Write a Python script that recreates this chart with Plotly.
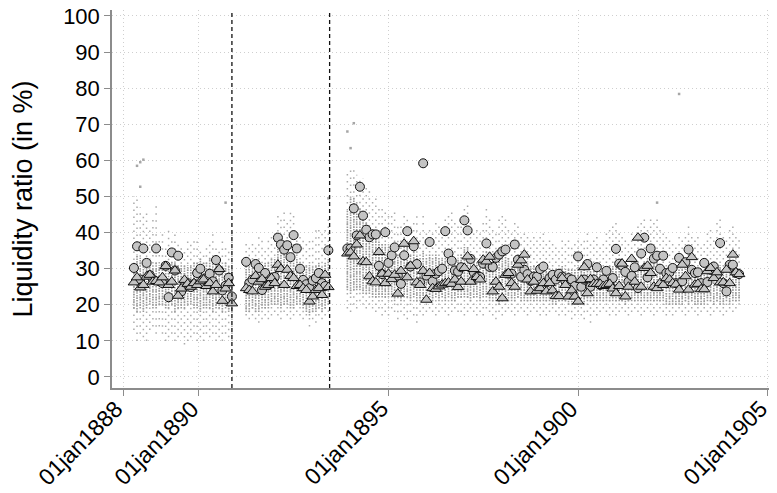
import pandas as pd
import plotly.graph_objects as go

# ---------------- data ----------------
# monthly observation dates, three sub-periods
seg1_start, seg1_n = "1888-04-15", 32
seg2_start, seg2_n = "1891-04-01", 27
seg3_start, seg3_n = "1893-12-01", 125

# cross-sectional mean (circles)
mean1 = [30.2, 36.2, 27.0, 35.6, 31.6, 28.2, 27.0, 35.6, 26.5, 26.0,
         30.8, 22.1, 34.5, 29.5, 33.6, 23.7, 25.5, 26.0, 24.9, 25.8,
         28.8, 30.0, 27.1, 27.4, 28.6, 26.5, 32.4, 29.5, 24.0, 25.3,
         27.5, 22.3]
mean2 = [31.9, 26.0, 27.0, 31.3, 30.2, 24.1, 28.8, 25.5, 27.4, 27.7,
         38.6, 36.7, 35.3, 36.5, 33.2, 39.3, 35.6, 30.0, 26.9, 25.7,
         24.6, 26.7, 27.4, 28.8, 26.0, 25.2, 35.1]
mean3 = [35.6, 35.6, 46.7, 39.2, 52.7, 44.7, 40.8, 38.7, 39.5, 39.5, 30.8, 28.5,
         40.1, 31.6, 33.7, 35.9, 28.1, 25.8, 33.7, 40.4, 30.6, 36.2, 31.3, 26.2,
         59.2, 28.1, 37.4, 26.5, 28.6, 29.3, 30.0, 40.4, 34.2, 32.2, 29.5, 29.2,
         30.4, 43.4, 40.6, 32.7, 29.0, 27.7, 27.7, 31.4, 37.0, 30.5, 30.5, 33.0,
         33.9, 34.8, 35.3, 28.6, 28.6, 36.7, 32.5, 27.8, 29.7, 28.5, 26.6, 27.8,
         27.8, 29.9, 30.6, 26.2, 27.4, 28.3, 27.0, 28.6, 27.8, 26.5, 27.4, 27.0,
         25.2, 33.4, 25.0, 27.0, 31.3, 25.0, 27.0, 30.4, 25.5, 27.0, 29.4, 25.7,
         27.4, 35.5, 31.4, 30.9, 29.1, 26.4, 28.0, 30.4, 24.6, 34.2, 38.6, 27.6,
         35.6, 32.8, 33.6, 30.0, 33.6, 28.8, 29.0, 30.2, 26.0, 33.0, 26.5, 31.8,
         35.3, 29.7, 28.8, 29.0, 26.0, 31.6, 26.3, 29.7, 30.6, 28.3, 37.1, 26.0,
         23.7, 31.1, 31.1, 28.8, 28.5]

# cross-sectional median (triangles)
med1 = [26.2, 27.6, 24.8, 25.5, 27.8, 28.3, 26.4, 26.6, 26.2, 27.6,
        30.7, 25.5, 26.4, 29.5, 22.5, 24.5, 26.9, 25.8, 25.0, 26.0,
        25.5, 26.5, 27.0, 25.2, 26.0, 23.7, 25.5, 29.9, 21.1, 24.5,
        26.0, 20.4]
med2 = [24.6, 24.1, 23.7, 28.0, 26.4, 27.1, 25.0, 25.5, 27.4, 26.0,
        31.1, 29.9, 25.5, 29.7, 28.0, 27.4, 25.2, 25.5, 24.6, 24.1,
        20.9, 22.3, 24.1, 24.6, 22.7, 28.3, 24.9]
med3 = [34.2, 34.5, 33.4, 36.7, 39.2, 32.0, 31.8, 27.9, 26.5, 26.2, 34.6, 28.6,
        26.0, 28.6, 27.1, 28.3, 23.1, 29.4, 36.9, 27.6, 30.8, 37.6, 26.2, 25.5,
        29.4, 21.4, 28.8, 24.6, 24.4, 25.1, 25.6, 26.0, 26.2, 25.8, 27.0, 24.9,
        26.4, 30.2, 33.4, 26.4, 29.9, 27.7, 27.0, 32.5, 32.0, 33.3, 23.7, 26.4,
        25.0, 21.8, 28.3, 28.8, 26.0, 25.0, 31.1, 32.3, 33.9, 27.0, 23.7, 26.4,
        23.9, 24.6, 26.0, 23.7, 26.0, 24.0, 22.4, 22.4, 27.4, 25.5, 22.3, 24.0,
        22.3, 20.9, 26.9, 30.4, 23.2, 27.1, 25.8, 25.8, 25.8, 25.2, 25.5, 25.8,
        24.5, 23.2, 25.2, 31.4, 22.3, 25.0, 32.7, 26.4, 38.6, 25.0, 30.2, 30.8,
        28.8, 25.0, 24.6, 26.0, 25.5, 27.4, 27.0, 26.0, 25.6, 24.2, 31.1, 27.9,
        24.2, 33.2, 25.6, 25.8, 24.3, 24.3, 29.3, 30.2, 27.4, 29.0, 26.2, 26.2,
        29.7, 26.0, 33.9, 29.0, 28.5]

# individual-bank dot cloud: full spread (min/max) and dense core
lo1 = [13, 10, 12, 11, 10, 13, 14, 12, 14, 12, 10, 11, 12, 10, 11, 12, 9, 10, 11, 12,
       10, 11, 10, 12, 11, 12, 10, 11, 10, 12, 11, 10]
hi1 = [50, 50, 47, 45, 46, 42, 44, 48, 38, 40, 36, 42, 38, 41, 37, 36, 35, 38, 37, 39,
       39, 36, 35, 37, 38, 41, 36, 35, 38, 37, 36, 40]
core_lo1 = [19, 18, 19, 18, 19, 20, 19, 19, 20, 20, 19, 19, 20, 18, 19, 19, 19, 20, 20, 19,
            19, 18, 19, 19, 19, 18, 19, 19, 18, 19, 18, 18]
core_hi1 = [32, 34, 33, 32, 31, 31, 31, 32, 31, 31, 32, 31, 32, 32, 31, 31, 31, 31, 31, 32,
            32, 33, 32, 32, 33, 32, 32, 33, 31, 32, 31, 30]

lo2 = [17, 16, 17, 16, 15, 16, 17, 16, 17, 18, 17, 16, 18, 17, 16, 17, 18, 17, 16, 17,
       14, 16, 15, 17, 16, 17, 18]
hi2 = [37, 36, 38, 37, 39, 38, 36, 39, 40, 41, 45, 44, 46, 43, 47, 45, 41, 40, 38, 37,
       38, 39, 42, 41, 40, 42, 44]
core_lo2 = [18, 18, 19, 18, 18, 19, 19, 19, 20, 20, 20, 19, 20, 20, 19, 19, 20, 20, 19, 18,
            17, 18, 18, 19, 18, 19, 20]
core_hi2 = [32, 31, 32, 32, 32, 31, 32, 32, 33, 33, 36, 35, 35, 35, 34, 35, 33, 32, 31, 31,
            31, 31, 31, 32, 31, 32, 33]

lo3 = [19, 18, 20, 19, 21, 20, 19, 20, 19, 18, 19, 17,
       18, 17, 19, 18, 16, 18, 17, 16, 18, 17, 15, 18,
       17, 18, 19, 18, 17, 18, 19, 18, 17, 18, 19, 18,
       18, 17, 18, 19, 18, 17, 18, 17, 19, 18, 17, 16,
       18, 17, 18, 19, 18, 17, 18, 19, 18, 17, 18, 19,
       18, 17, 18, 17, 18, 19, 18, 17, 18, 17, 18, 16,
       17, 18, 17, 16, 18, 15, 18, 17, 18, 19, 18, 17,
       18, 17, 18, 19, 18, 17, 18, 19, 18, 17, 18, 19,
       18, 17, 18, 19, 18, 17, 18, 17, 18, 19, 18, 17,
       18, 19, 18, 17, 18, 19, 18, 17, 18, 19, 18, 17,
       18, 19, 18, 19, 20]
hi3 = [57, 58, 58, 56, 55, 55, 53, 52, 50, 50, 48, 47,
       46, 45, 46, 47, 42, 43, 46, 45, 42, 44, 45, 41,
       46, 40, 42, 41, 44, 42, 40, 44, 45, 47, 43, 42,
       45, 48, 49, 44, 41, 42, 40, 43, 47, 44, 42, 41,
       44, 46, 45, 41, 40, 44, 43, 40, 41, 39, 38, 40,
       39, 40, 41, 38, 39, 38, 37, 36, 38, 37, 38, 36,
       38, 39, 37, 38, 40, 37, 38, 39, 37, 38, 40, 41,
       42, 43, 41, 40, 39, 38, 41, 40, 42, 43, 44, 41,
       45, 44, 44, 42, 41, 40, 39, 38, 37, 39, 38, 40,
       42, 40, 38, 39, 37, 38, 40, 41, 39, 43, 44, 40,
       38, 41, 42, 40, 39]
core_lo3 = [24, 23, 24, 24, 24, 23, 23, 23, 22, 22, 22, 22,
            22, 22, 22, 21, 22, 21, 22, 22, 21, 22, 21, 21,
            21, 21, 22, 21, 22, 21, 22, 21, 22, 21, 21, 22,
            22, 22, 22, 21, 22, 22, 21, 22, 22, 21, 21, 21,
            20, 21, 22, 21, 21, 21, 22, 21, 21, 21, 21, 21,
            21, 21, 21, 21, 21, 20, 20, 21, 21, 21, 20, 20,
            20, 20, 21, 20, 21, 21, 21, 21, 21, 21, 21, 21,
            21, 21, 21, 21, 20, 21, 21, 21, 21, 21, 21, 21,
            21, 21, 21, 21, 21, 20, 20, 20, 20, 20, 20, 21,
            20, 21, 20, 20, 20, 20, 21, 21, 20, 21, 20, 20,
            21, 20, 21, 21, 21]
core_hi3 = [46, 50, 50, 48, 47, 45, 43, 42, 41, 40, 38, 37,
            37, 36, 36, 35, 34, 34, 36, 36, 34, 35, 34, 33,
            35, 33, 34, 33, 34, 33, 33, 35, 34, 33, 33, 33,
            34, 36, 36, 33, 32, 32, 32, 33, 35, 34, 33, 32,
            33, 34, 34, 33, 32, 33, 33, 32, 32, 32, 31, 31,
            31, 31, 31, 30, 30, 30, 30, 30, 31, 30, 30, 30,
            30, 31, 30, 30, 31, 30, 30, 31, 30, 30, 31, 31,
            31, 32, 31, 31, 30, 30, 31, 31, 32, 31, 32, 31,
            32, 32, 32, 31, 31, 30, 30, 30, 30, 30, 30, 30,
            31, 30, 30, 30, 29, 30, 30, 31, 30, 31, 31, 30,
            30, 30, 31, 30, 30]

# isolated far-out bank observations
outlier_dates = ["1888-05-15", "1888-06-15", "1888-07-15", "1888-06-15", "1890-09-15",
                 "1893-06-01", "1893-12-01", "1894-01-01", "1894-02-01", "1902-02-01",
                 "1902-09-01"]
outlier_vals = [58.5, 59.5, 60.2, 52.7, 48.3, 49.5, 68.0, 63.4, 70.3, 48.3, 78.4]

# event lines (vertical dashed)
event_dates = ["1890-11-15", "1893-06-13"]

# axis ticks
x_tickvals = ["1888-01-01", "1890-01-01", "1895-01-01", "1900-01-01", "1905-01-01"]
x_ticktext = ["01jan1888", "01jan1890", "01jan1895", "01jan1900", "01jan1905"]
y_tickvals = [0, 10, 20, 30, 40, 50, 60, 70, 80, 90, 100]

# ---------------- build ----------------
def month_dates(start, n):
    d0 = pd.Timestamp(start)
    return [d0 + pd.DateOffset(months=i) for i in range(n)]

segments = [
    (month_dates(seg1_start, seg1_n), mean1, med1, lo1, hi1, core_lo1, core_hi1),
    (month_dates(seg2_start, seg2_n), mean2, med2, lo2, hi2, core_lo2, core_hi2),
    (month_dates(seg3_start, seg3_n), mean3, med3, lo3, hi3, core_lo3, core_hi3),
]

dates, means, meds = [], [], []
sx, sy, cx, cy = [], [], [], []
for d, m, md, lo, hi, clo, chi in segments:
    n = len(d)
    assert all(len(a) == n for a in (m, md, lo, hi, clo, chi)), n
    dates += d
    means += m
    meds += md
    for i in range(n):
        sx += [d[i], d[i], None]
        sy += [lo[i], hi[i], None]
        cx += [d[i], d[i], None]
        cy += [clo[i], chi[i], None]

fig = go.Figure()
fig.add_trace(go.Scatter(x=sx, y=sy, mode="lines",
                         line=dict(color="#ababab", width=1.5, dash="1.5px,5.5px"),
                         hoverinfo="skip", showlegend=False))
fig.add_trace(go.Scatter(x=cx, y=cy, mode="lines",
                         line=dict(color="#9a9a9a", width=1.6, dash="1.5px,1.1px"),
                         hoverinfo="skip", showlegend=False))
fig.add_trace(go.Scatter(x=outlier_dates, y=outlier_vals, mode="markers",
                         marker=dict(color="#a6a6a6", size=2.5, symbol="square"),
                         hoverinfo="skip", showlegend=False))
fig.add_trace(go.Scatter(x=dates, y=means, mode="markers", name="Mean",
                         marker=dict(symbol="circle", size=9, color="#c4c4c4",
                                     line=dict(color="#111111", width=1)),
                         showlegend=False))
fig.add_trace(go.Scatter(x=dates, y=meds, mode="markers", name="Median",
                         marker=dict(symbol="triangle-up", size=10, color="#c4c4c4",
                                     line=dict(color="#111111", width=1)),
                         showlegend=False))

for ed in event_dates:
    fig.add_shape(type="line", xref="x", yref="paper", x0=ed, x1=ed, y0=0, y1=1,
                  line=dict(color="#111111", width=1.3, dash="4px,3px"))

# rotated x tick labels, anchored by their top-right corner at the tick ends
for tv, tt in zip(x_tickvals, x_ticktext):
    fig.add_annotation(x=tv, xref="x", y=0, yref="paper", text=tt,
                       textangle=-45, xanchor="right", yanchor="top",
                       xshift=6, yshift=-7, showarrow=False,
                       font=dict(size=23, color="#000000"), borderpad=0)

font_family = "Liberation Sans, Arial, Helvetica, sans-serif"
# the page body adds an 8px offset, so the figure is 8px smaller than the window
fig.update_layout(
    width=769, height=485,
    margin=dict(l=104, r=0, t=2, b=105, autoexpand=False),
    paper_bgcolor="white", plot_bgcolor="white",
    font=dict(family=font_family, size=23, color="#000000"),
    showlegend=False,
    xaxis=dict(type="date", range=["1887-09-17", "1905-04-01"],
               tickvals=x_tickvals, showticklabels=False,
               showgrid=True, gridcolor="#cfcfcf", gridwidth=1, griddash="1px,3px",
               showline=True, linecolor="#8c8c8c", linewidth=1.5,
               ticks="outside", ticklen=6, tickcolor="#8c8c8c", tickwidth=1.2,
               zeroline=False),
    yaxis=dict(range=[-3.05, 101.66], tickvals=y_tickvals,
               tickfont=dict(size=22), ticklabeloverflow="allow",
               title=dict(text="Liquidity ratio (in %)", font=dict(size=27), standoff=38),
               showgrid=True, gridcolor="#cfcfcf", gridwidth=1, griddash="1px,3px",
               showline=True, linecolor="#8c8c8c", linewidth=1.5,
               ticks="outside", ticklen=6, tickcolor="#8c8c8c", tickwidth=1.2,
               zeroline=False),
)

fig.write_html("out.html")
